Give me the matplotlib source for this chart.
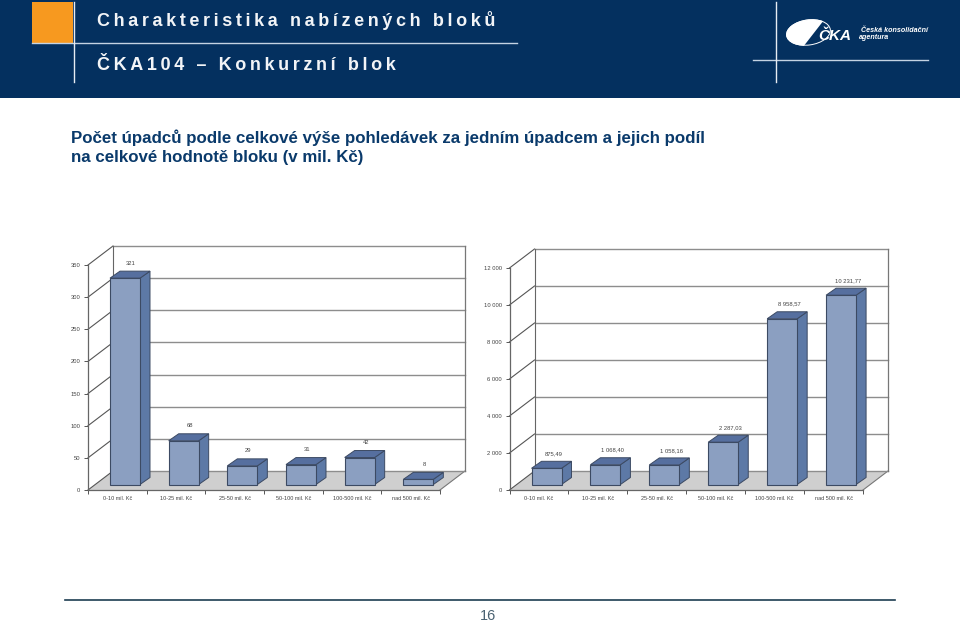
import matplotlib
matplotlib.use("Agg")
import matplotlib.pyplot as plt
from matplotlib.patches import Ellipse, Polygon, Rectangle

plt.rcParams['font.family'] = ['Liberation Sans', 'DejaVu Sans']

W, H = 960, 622

# --- DATA ---
categories = ['0-10 mil. Kč', '10-25 mil. Kč', '25-50 mil. Kč',
              '50-100 mil. Kč', '100-500 mil. Kč', 'nad 500 mil. Kč']
counts = [321, 68, 29, 31, 42, 8]
count_labels = ['321', '68', '29', '31', '42', '8']
count_ticks = [0, 50, 100, 150, 200, 250, 300, 350]
values = [875.49, 1068.40, 1058.16, 2287.03, 8958.57, 10231.77]
value_labels = ['875,49', '1 068,40', '1 058,16', '2 287,03', '8 958,57', '10 231,77']
value_ticks = [0, 2000, 4000, 6000, 8000, 10000, 12000]
value_tick_labels = ['0', '2 000', '4 000', '6 000', '8 000', '10 000', '12 000']

title_1 = 'Charakteristika nabízených bloků'
title_2 = 'ČKA104 – Konkurzní blok'
subtitle = ('Počet úpadců podle celkové výše pohledávek za jedním úpadcem a jejich podíl\n'
            'na celkové hodnotě bloku (v mil. Kč)')

# --- COLOURS ---
NAVY = '#04305f'
ORANGE = '#f7991f'
RULE = '#c5d3e3'
FRONT = '#8b9fc1'
SIDE = '#5d79a6'
TOP = '#566f9f'
EDGE = '#3c4a63'
FLOOR = '#cfcfcf'
GRID = '#8d8d8d'
TEXT = '#444444'


def spaced(s, sep):
    # no letter spacing in matplotlib, so put narrow spaces between the glyphs
    return sep.join(s)


fig = plt.figure(figsize=(W / 100, H / 100), dpi=100, facecolor='white')

# page in pixel coordinates, y going down
page = fig.add_axes([0, 0, 1, 1])
page.set_xlim(0, W)
page.set_ylim(H, 0)
page.axis('off')

page.add_patch(Rectangle((0, 0), W, 98, fc=NAVY, ec='none'))
page.add_patch(Rectangle((32, 2), 41, 41, fc=ORANGE, ec='none'))
page.plot([32, 517], [43, 43], color=RULE, lw=1)
page.plot([73.5, 73.5], [2, 82], color='#e6ecf3', lw=1)
page.plot([753, 928], [60, 60], color=RULE, lw=1)
page.plot([775.5, 775.5], [2, 82], color='#e6ecf3', lw=1)

page.text(97, 20.5, spaced(title_1, '\u2009'), color='#f2f4f7', fontsize=12.95, fontweight='bold',
          va='center', ha='left')
page.text(97, 66, spaced(title_2, '\u2009'), color='#f2f4f7', fontsize=12.95, fontweight='bold',
          va='center', ha='left')

# logo
page.add_patch(Ellipse((808.5, 32.5), 44, 25, angle=-8, fc='white', ec='white', lw=0.8))
page.add_patch(Polygon([(803, 47), (824, 20), (834, 20), (834, 47)], fc=NAVY, ec='none'))
page.add_patch(Ellipse((808.5, 32.5), 44, 25, angle=-8, fc='none', ec='white', lw=0.7))
page.text(818, 35.5, 'ČKA', color='white', fontsize=11, fontweight='bold', style='italic',
          va='center', ha='left')
page.text(861, 30.5, 'Česká konsolidační', color='white', fontsize=5.1, fontweight='bold',
          style='italic', va='center', ha='left')
page.text(859, 37.5, 'agentura', color='white', fontsize=5.1, fontweight='bold',
          style='italic', va='center', ha='left')

page.text(71, 147.5, subtitle, color='#0a3a6b', fontsize=12.2, fontweight='bold',
          va='center', ha='left', linespacing=1.3)

page.plot([65, 895], [599.5, 599.5], color='#1c3d52', lw=1.2)
page.text(488, 616, '16', color='#4a6272', fontsize=10.5, va='center', ha='center')


def chart(left, right, top, ticks, tick_labels, data, labels, label_dx, label_dy):
    # axes frame is the front plane of the chart, px -> fig fractions
    bottom = 490
    ax = fig.add_axes([left / W, 1 - bottom / H, (right - left) / W, (bottom - top) / H])
    n = len(data)
    ax.set_xlim(0, n)
    ax.set_ylim(ticks[0], ticks[-1])
    ax.patch.set_visible(False)

    px_x = n / (right - left)
    px_y = ticks[-1] / (bottom - top)
    depth_x, depth_y = 25 * px_x, 19 * px_y   # wall depth
    bx, by = 10 * px_x, 7 * px_y              # bar depth
    width = 30 * px_x
    base = 5.5 * px_y
    inset = 22 * px_x

    # floor and walls
    ax.add_patch(Polygon([(0, 0), (n, 0), (n + depth_x, depth_y), (depth_x, depth_y)],
                         fc=FLOOR, ec='none', clip_on=False, zorder=1))
    ax.plot([0, depth_x], [0, depth_y], color='#555555', lw=0.8, clip_on=False, zorder=1.5)
    ax.plot([n, n + depth_x], [0, depth_y], color='#777777', lw=0.8, clip_on=False, zorder=1.5)
    for t in ticks[1:]:
        ax.plot([0, depth_x], [t, t + depth_y], color='#555555', lw=0.8, clip_on=False, zorder=1.5)
    for t in ticks:
        ax.plot([depth_x, n + depth_x], [t + depth_y, t + depth_y], color=GRID, lw=1,
                clip_on=False, zorder=1.5)
    ax.plot([depth_x, depth_x], [depth_y, ticks[-1] + depth_y], color='#666666', lw=0.8,
            clip_on=False, zorder=1.5)
    ax.plot([n + depth_x, n + depth_x], [depth_y, ticks[-1] + depth_y], color='#777777', lw=0.9,
            clip_on=False, zorder=1.5)

    # bars, front face plus side and top faces
    for i, v in enumerate(data):
        x0 = i + inset
        x1 = x0 + width
        y1 = base + v
        ax.add_patch(Polygon([(x1, base), (x1 + bx, base + by), (x1 + bx, y1 + by), (x1, y1)],
                             fc=SIDE, ec=EDGE, lw=0.7, clip_on=False, zorder=3))
        ax.add_patch(Polygon([(x0, y1), (x1, y1), (x1 + bx, y1 + by), (x0 + bx, y1 + by)],
                             fc=TOP, ec=EDGE, lw=0.7, clip_on=False, zorder=3))
        ax.add_patch(Rectangle((x0, base), width, v, fc=FRONT, ec=EDGE, lw=0.8,
                               clip_on=False, zorder=4))
        ax.annotate(labels[i], (x0 + width / 2 + bx / 2, y1 + by), xytext=(label_dx, label_dy),
                    textcoords='offset pixels', ha='center', va='center', fontsize=4.2,
                    color=TEXT, annotation_clip=False, zorder=5)

    for s in ['top', 'right']:
        ax.spines[s].set_visible(False)
    for s in ['left', 'bottom']:
        ax.spines[s].set_color('#666666')
        ax.spines[s].set_linewidth(0.9)
        ax.spines[s].set_zorder(2)

    ax.set_yticks(ticks)
    ax.set_yticklabels(tick_labels, fontsize=4.2, color=TEXT)
    ax.set_xticks(range(n + 1))
    ax.set_xticklabels([])
    ax.set_xticks([i + 0.5 for i in range(n)], minor=True)
    ax.set_xticklabels(categories, minor=True, fontsize=4, color=TEXT)
    ax.tick_params(axis='y', length=3, width=0.7, color='#555555', pad=2.5)
    ax.tick_params(axis='x', which='major', length=3, width=0.7, color='#555555')
    ax.tick_params(axis='x', which='minor', length=0, pad=4.5)
    return ax


chart(88, 440, 265, count_ticks, [str(t) for t in count_ticks], counts, count_labels, 1, 8)
chart(509.5, 863, 268, value_ticks, value_tick_labels, values, value_labels, 2, 7.5)

fig.savefig('out.png', dpi=100, facecolor='white')
print("Chart generated.")
